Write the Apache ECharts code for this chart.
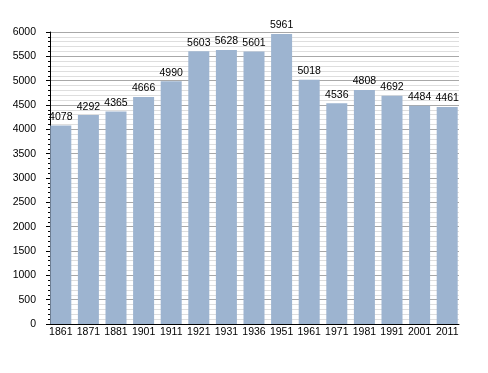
<!DOCTYPE html>
<html><head><meta charset="utf-8">
<script src="https://cdn.jsdelivr.net/npm/echarts@6/dist/echarts.min.js"></script>
<style>html,body{margin:0;padding:0;background:#fff}#c{width:488px;height:373px}</style>
</head><body><div id="c"></div>
<script>
var years = ['1861','1871','1881','1901','1911','1921','1931','1936','1951','1961','1971','1981','1991','2001','2011'];
var population = [4078,4292,4365,4666,4990,5603,5628,5601,5961,5018,4536,4808,4692,4484,4461];
var yTicks = [0,500,1000,1500,2000,2500,3000,3500,4000,4500,5000,5500,6000];
var yMin = yTicks[0], yMax = yTicks[yTicks.length-1];
var font = 'Liberation Sans, Arial, sans-serif';
var chart = echarts.init(document.getElementById('c'), null, {renderer:'canvas'});
chart.setOption({
  animation:false,
  textStyle:{fontFamily:font},
  grid:[
    {left:50,right:29,top:32,bottom:49,containLabel:false},
    {left:47,right:27,top:32,bottom:49,containLabel:false}
  ],
  xAxis:[
    {type:'category',gridIndex:0,data:years,
      axisLine:{lineStyle:{color:'#000',width:1}},
      axisTick:{show:false},axisLabel:{show:false},splitLine:{show:false}},
    {type:'category',gridIndex:1,data:years,
      axisLine:{show:false},axisTick:{show:false},splitLine:{show:false},
      axisLabel:{color:'#000',fontSize:10.5,fontFamily:font,margin:3,interval:0}}
  ],
  yAxis:[
    {type:'value',gridIndex:0,min:yMin,max:yMax,interval:500,
      axisLine:{show:true,lineStyle:{color:'#000',width:1}},
      axisTick:{show:true,length:4,lineStyle:{color:'#000'}},
      minorTick:{show:true,splitNumber:5,length:2,lineStyle:{color:'#000'}},
      splitLine:{show:true,lineStyle:{color:'#a8a8a8',width:1}},
      minorSplitLine:{show:true,lineStyle:{color:'#dedede',width:1}},
      axisLabel:{color:'#000',fontSize:10.5,fontFamily:font,margin:14,
        formatter:function(v){return String(v);}}},
    {type:'value',gridIndex:1,min:yMin,max:yMax,interval:500,show:false,
      splitLine:{show:false}}
  ],
  series:[{type:'bar',xAxisIndex:1,yAxisIndex:1,data:population,barWidth:21,
    itemStyle:{color:'#9db4d0'},
    label:{show:true,position:'top',color:'#000',fontSize:10.5,fontFamily:font,distance:3}}]
});
</script></body></html>
